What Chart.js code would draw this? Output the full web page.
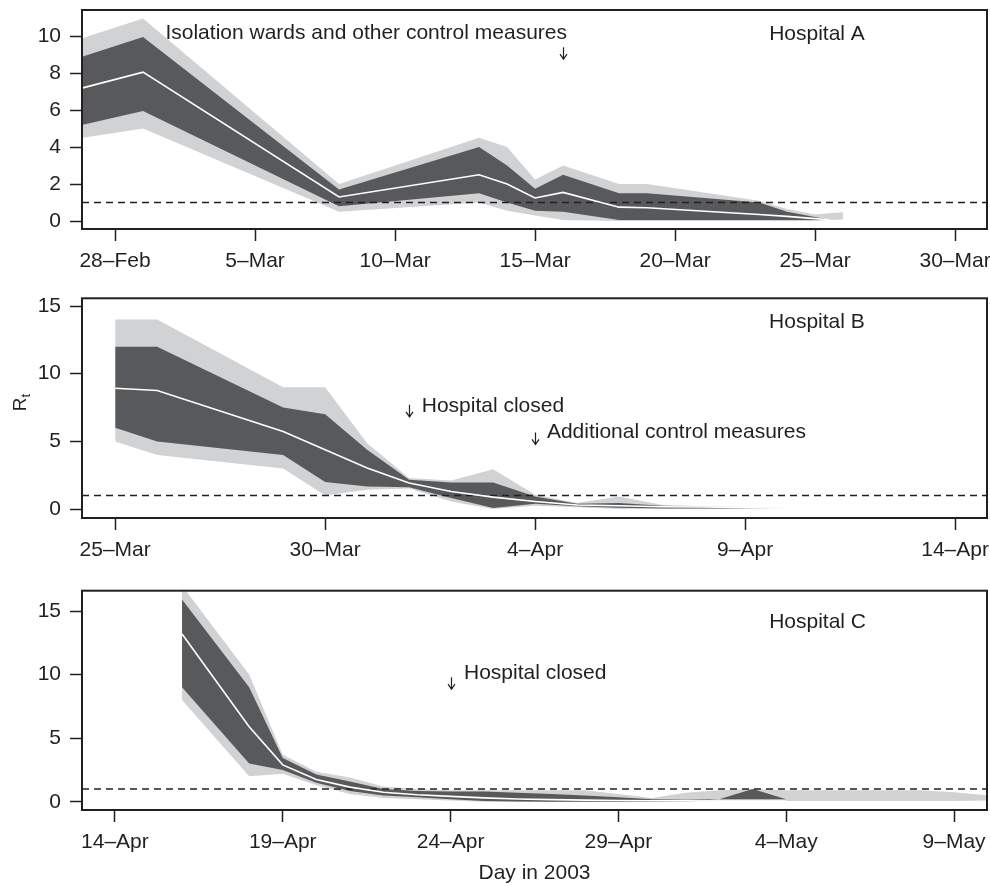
<!DOCTYPE html>
<html lang="en">
<head>
<meta charset="UTF-8">
<title>Rt by hospital, 2003</title>
<script src="https://cdn.jsdelivr.net/npm/chart.js"></script>
<style>
  body { margin: 0; background: #fff; }
  canvas.panel { position: absolute; left: 0; }
</style>
</head>
<body>
<canvas id="chartA" class="panel" width="990" height="285" style="top:0px"></canvas>
<canvas id="chartB" class="panel" width="990" height="289" style="top:285px"></canvas>
<canvas id="chartC" class="panel" width="990" height="312" style="top:574px"></canvas>
<script>
// days are day-of-year 2003 (1 = 1 Jan)
// Hospital A
const aDays     = [57.85, 60, 67, 72, 73, 74, 75, 77, 78, 82, 83, 84, 84.5, 85];
const aOuterTop = [9.9, 10.95, 2.0, 4.5, 4.0, 2.25, 3.0, 2.0, 2.0, 1.1, 0.65, 0.35, 0.42, 0.47];
const aInnerTop = [8.9, 9.95, 1.7, 4.0, 3.0, 1.75, 2.5, 1.5, 1.5, 1.0, 0.5, 0.22, 0.07, null];
const aMedian   = [7.2, 8.05, 1.3, 2.5, 2.0, 1.25, 1.55, 0.75, 0.72, 0.35, 0.25, 0.13, 0.07, null];
const aInnerBot = [5.2, 5.95, 0.8, 1.5, 1.0, 0.55, 0.5, 0.05, 0.05, 0.05, 0.05, 0.05, 0.06, null];
const aOuterBot = [4.5, 5.0, 0.5, 1.0, 0.55, 0.3, 0.05, 0, 0, 0, 0, 0, 0.06, 0.08];
const aTickDays   = [59, 64, 69, 74, 79, 84, 89];
const aTickLabels = ['28–Feb', '5–Mar', '10–Mar', '15–Mar', '20–Mar', '25–Mar', '30–Mar'];
const aYTicks     = [0, 2, 4, 6, 8, 10];

// Hospital B
const bDays     = [84, 85, 88, 89, 90, 91, 92, 93, 94, 95, 96, 97, 98, 99, 100];
const bOuterTop = [14, 14, 9, 9, 4.87, 2.29, 2.11, 2.95, 1.05, 0.44, 0.93, 0.32, 0.2, 0.15, 0.07];
const bInnerTop = [12, 12, 7.5, 7, 4.38, 2.16, 1.96, 1.97, 0.93, 0.39, 0.44, 0.24, 0.18, 0.12, 0.07];
const bMedian   = [8.93, 8.76, 5.73, 4.38, 3.03, 1.92, 1.3, 0.88, 0.56, 0.3, 0.24, 0.17, 0.15, 0.1, 0.07];
const bInnerBot = [6, 5, 4, 2, 1.67, 1.62, 0.81, 0.07, 0.39, 0.2, 0.1, 0.05, 0.05, 0.05, 0.07];
const bOuterBot = [5, 4, 3, 1, 1.43, 1.52, 0.56, 0, 0.24, 0.14, 0, 0.05, 0.05, 0.05, 0.07];
const bTickDays   = [84, 89, 94, 99, 104];
const bTickLabels = ['25–Mar', '30–Mar', '4–Apr', '9–Apr', '14–Apr'];
const bYTicks     = [0, 5, 10, 15];

// Hospital C
const cDays     = [106, 108, 109, 110, 111, 112, 113, 114, 115, 116, 117, 118, 119, 120, 121, 122, 123, 124, 125, 126, 127, 128, 129, 130];
const cOuterTop = [17, 10.0, 3.7, 2.35, 1.9, 1.2, 1.0, 0.9, 0.9, 0.9, 0.9, 0.9, 0.6, 0.3, 0.7, 0.9, 1.0, 0.9, 0.9, 0.9, 0.9, 0.9, 0.75, 0.5];
const cInnerTop = [15.9, 9.0, 3.45, 2.15, 1.6, 1.0, 0.85, 0.8, 0.8, 0.7, 0.6, 0.5, 0.35, 0.2, 0.15, 0.2, 1.0, 0.2, null, null, null, null, null, null];
const cMedian   = [13.2, 5.9, 2.9, 1.75, 1.15, 0.75, 0.55, 0.42, 0.3, 0.22, 0.17, 0.13, 0.1, 0.08, 0.07, 0.06, 0.05, 0.05, null, null, null, null, null, null];
const cInnerBot = [9.0, 3.0, 2.5, 1.5, 0.85, 0.5, 0.35, 0.2, 0.05, 0.02, 0, 0, 0, 0, 0, 0.2, 0.2, 0.2, null, null, null, null, null, null];
const cOuterBot = [8.0, 2.0, 2.2, 1.3, 0.6, 0.3, 0.2, 0.1, 0, 0, 0, 0, 0, 0, 0, 0.05, 0.05, 0.05, 0.05, 0.05, 0.05, 0.05, 0.05, 0.1];
const cTickDays   = [104, 109, 114, 119, 124, 129];
const cTickLabels = ['14–Apr', '19–Apr', '24–Apr', '29–Apr', '4–May', '9–May'];
const cYTicks     = [0, 5, 10, 15];

const threshold = 1;

const INK = '#231f20';
const DARK = '#58595b';
const LIGHT = '#d1d2d4';
const FAMILY = "'Liberation Sans', Arial, sans-serif";

const notesPlugin = {
    id: 'notes',
    afterDraw(chart, args, opts) {
        const ctx = chart.ctx;
        const a = chart.chartArea;
        const x = chart.scales.x, y = chart.scales.y;
        ctx.save();
        ctx.strokeStyle = INK;
        ctx.lineWidth = 2;
        ctx.strokeRect(a.left, a.top, a.right - a.left, a.bottom - a.top);

        ctx.fillStyle = INK;
        ctx.font = '21px ' + FAMILY;
        ctx.textAlign = 'left';
        ctx.textBaseline = 'middle';
        (opts.labels || []).forEach(n => {
            ctx.fillText(n.text, x.getPixelForValue(n.day), y.getPixelForValue(n.value));
        });

        ctx.lineWidth = 1.2;
        (opts.arrows || []).forEach(n => {
            const px = Math.round(x.getPixelForValue(n.day)) + 0.5;
            const py = y.getPixelForValue(n.value);
            ctx.beginPath();
            ctx.moveTo(px, py);
            ctx.lineTo(px, py + 12);
            ctx.moveTo(px - 3.5, py + 7);
            ctx.lineTo(px, py + 12);
            ctx.lineTo(px + 3.5, py + 7);
            ctx.stroke();
        });

        if (opts.yTitle) {
            ctx.translate(26, (a.top + a.bottom) / 2 + 3);
            ctx.rotate(-Math.PI / 2);
            ctx.textBaseline = 'alphabetic';
            ctx.font = '19px ' + FAMILY;
            ctx.fillText('R', 0, 0);
            const w = ctx.measureText('R').width;
            ctx.font = '13px ' + FAMILY;
            ctx.fillText('t', w, 4);
        }
        ctx.restore();
    }
};

function makePanel(id, p) {
    const pts = arr => p.days.map((d, i) => ({x: d, y: arr[i]}));
    const band = (arr, color) => ({
        data: pts(arr), borderWidth: 0, borderColor: 'transparent',
        backgroundColor: color, fill: color ? '+1' : false
    });
    new Chart(document.getElementById(id), {
        type: 'line',
        data: {
            datasets: [
                {data: pts(p.median), borderColor: '#ffffff', borderWidth: 1.6, fill: false},
                {data: [{x: p.xMin, y: threshold}, {x: p.xMax, y: threshold}],
                 borderColor: INK, borderWidth: 1.5, borderDash: [7, 5], fill: false},
                band(p.innerTop, DARK),
                band(p.innerBot, null),
                band(p.outerTop, LIGHT),
                band(p.outerBot, null)
            ]
        },
        options: {
            responsive: false,
            animation: false,
            events: [],
            layout: {padding: {top: p.padTop, right: 3, left: 0, bottom: 0}},
            elements: {point: {radius: 0}, line: {tension: 0}},
            plugins: {
                legend: {display: false},
                tooltip: {enabled: false},
                notes: {labels: p.labels, arrows: p.arrows, yTitle: p.yTitle}
            },
            scales: {
                x: {
                    type: 'linear',
                    min: p.xMin,
                    max: p.xMax,
                    afterBuildTicks: s => { s.ticks = p.tickDays.map(v => ({value: v})); },
                    afterFit: s => { s.height = p.xAxisH; s.paddingLeft = 0; s.paddingRight = 0; },
                    grid: {display: true, drawOnChartArea: false, drawTicks: true,
                           tickLength: 12, tickWidth: 1.5, tickColor: INK},
                    border: {display: false},
                    ticks: {
                        autoSkip: false, maxRotation: 0, padding: 8, color: INK,
                        font: {family: FAMILY, size: 21},
                        callback: v => p.tickLabels[p.tickDays.indexOf(v)]
                    },
                    title: {display: !!p.xTitle, text: p.xTitle, color: INK,
                            font: {family: FAMILY, size: 21}, padding: {top: 0, bottom: 0}}
                },
                y: {
                    min: p.yMin,
                    max: p.yMax,
                    afterBuildTicks: s => { s.ticks = p.yTicks.map(v => ({value: v})); },
                    afterFit: s => { s.width = 82; s.paddingTop = 0; s.paddingBottom = 0; },
                    grid: {display: true, drawOnChartArea: false, drawTicks: true,
                           tickLength: 12, tickWidth: 1.5, tickColor: INK},
                    border: {display: false},
                    ticks: {padding: 9, color: INK, font: {family: FAMILY, size: 21}}
                }
            }
        },
        plugins: [notesPlugin]
    });
}

makePanel('chartA', {
    days: aDays, outerTop: aOuterTop, innerTop: aInnerTop, median: aMedian,
    innerBot: aInnerBot, outerBot: aOuterBot,
    tickDays: aTickDays, tickLabels: aTickLabels, yTicks: aYTicks,
    xMin: 57.82, xMax: 90.14, yMin: -0.43, yMax: 11.41,
    padTop: 10, xAxisH: 56,
    labels: [
        {text: 'Isolation wards and other control measures', day: 60.8, value: 10.14},
        {text: 'Hospital A', day: 82.36, value: 10.1}
    ],
    arrows: [{day: 75, value: 9.4}]
});

makePanel('chartB', {
    days: bDays, outerTop: bOuterTop, innerTop: bInnerTop, median: bMedian,
    innerBot: bInnerBot, outerBot: bOuterBot,
    tickDays: bTickDays, tickLabels: bTickLabels, yTicks: bYTicks,
    xMin: 83.21, xMax: 104.76, yMin: -0.66, yMax: 15.57,
    padTop: 13.3, xAxisH: 56, yTitle: true,
    labels: [
        {text: 'Hospital B', day: 99.57, value: 13.8},
        {text: 'Hospital closed', day: 91.3, value: 7.63},
        {text: 'Additional control measures', day: 94.28, value: 5.67}
    ],
    arrows: [{day: 91, value: 7.7}, {day: 94, value: 5.66}]
});

makePanel('chartC', {
    days: cDays, outerTop: cOuterTop, innerTop: cInnerTop, median: cMedian,
    innerBot: cInnerBot, outerBot: cOuterBot,
    tickDays: cTickDays, tickLabels: cTickLabels, yTicks: cYTicks,
    xMin: 103.02, xMax: 129.98, yMin: -0.65, yMax: 16.6,
    padTop: 16.7, xAxisH: 76, xTitle: 'Day in 2003',
    labels: [
        {text: 'Hospital C', day: 123.49, value: 14.1},
        {text: 'Hospital closed', day: 114.4, value: 10.1}
    ],
    arrows: [{day: 114.0, value: 9.8}]
});
</script>
</body>
</html>
